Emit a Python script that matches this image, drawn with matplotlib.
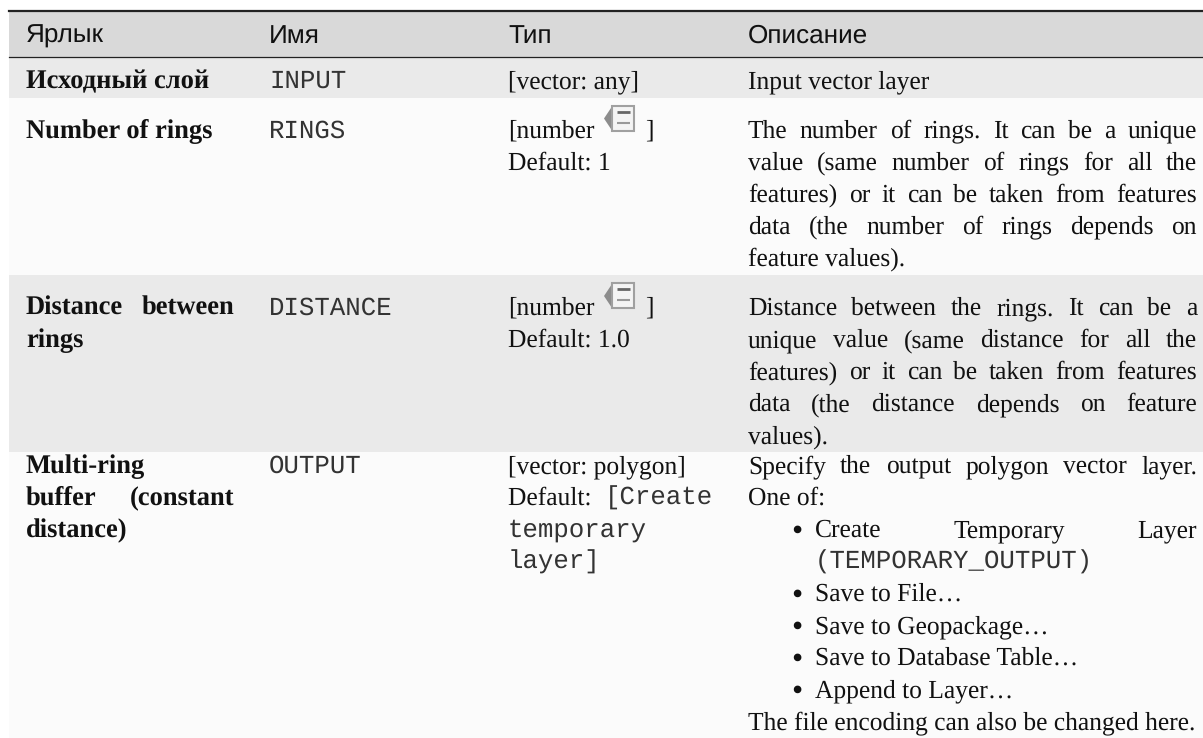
import matplotlib
matplotlib.use('Agg')
import matplotlib.pyplot as plt
from matplotlib.patches import Rectangle, Polygon

plt.rcParams['text.hinting'] = 'no_hinting'

# Table content
headers = ['Ярлык', 'Имя', 'Тип', 'Описание']
names = ['INPUT', 'RINGS', 'DISTANCE', 'OUTPUT']
labels = [
  ['Исходный слой'],
  ['Number of rings'],
  ['Distance between', 'rings'],
  ['Multi-ring', 'buffer (constant', 'distance)'],
]
types = [
  ['[vector: any]'],
  ['[number', 'Default: 1'],
  ['[number', 'Default: 1.0'],
  ['[vector: polygon]', 'Default: ', 'temporary', 'layer]'],
]
default_mono = '[Create'
descriptions = [
  [('Input vector layer', False)],
  [('The number of rings. It can be a unique', True),
   ('value (same number of rings for all the', True),
   ('features) or it can be taken from features', True),
   ('data (the number of rings depends on', True),
   ('feature values).', False)],
  [('Distance between the rings. It can be a', True),
   ('unique value (same distance for all the', True),
   ('features) or it can be taken from features', True),
   ('data (the distance depends on feature', True),
   ('values).', False)],
]
output_intro = ['Specify the output polygon vector layer.', 'One of:']
output_bullets = ['Create Temporary Layer', None, 'Save to File…', 'Save to Geopackage…',
                  'Save to Database Table…', 'Append to Layer…']
output_code = '(TEMPORARY_OUTPUT)'
output_tail = 'The file encoding can also be changed here.'

# Layout, in pixels
W, H = 1203, 738
LEFT = 9
COL_X = [26, 269, 508, 748]
RIGHT_DESC = 1197
RIGHT_LABEL = 234
ROW_TOPS = [57, 98, 275, 452, 738]
FIRST_BASE = [88, 137.5, 315, 473]
LINE = 32
SERIF = 'Liberation Serif'
MONO = 'Liberation Mono'
SANS = 'Liberation Sans'
FS = 18.4
FS_BOLD = 19.1
FS_HEAD = 18.8
FS_MONO = 18.5

fig = plt.figure(figsize=(W / 100, H / 100), dpi=100)
ax = fig.add_axes([0, 0, 1, 1])
ax.set_xlim(0, W)
ax.set_ylim(H, 0)
ax.axis('off')
renderer = fig.canvas.get_renderer()


def put(x, y, s, family=SERIF, weight='normal', color='#111111', size=FS):
  return ax.text(x, y, s, family=family, fontweight=weight, fontsize=size,
                 color=color, va='baseline', ha='left')


def mono(x, y, s):
  return put(x, y, s, family=MONO, color='#333333', size=FS_MONO)


def width(t):
  return t.get_window_extent(renderer).width


def justified(x0, x1, y, s, weight='normal', size=FS):
  # spread the words out to fill the column like the html table does
  words = s.split(' ')
  parts = [put(x0, y, w, weight=weight, size=size) for w in words]
  total = sum(width(p) for p in parts)
  gap = (x1 - x0 - total) / (len(words) - 1)
  x = x0
  for p in parts:
    p.set_x(x)
    x += width(p) + gap


def icon(y):
  # little "data defined" widget next to [number ]
  ax.add_patch(Polygon([[604, y - 19], [612, y - 31], [612, y - 7]], color='#8c8c8c', lw=0))
  ax.add_patch(Rectangle((612, y - 32), 22, 25, fc='#f4f4f4', ec='#a0a0a0', lw=1.5))
  ax.plot([617, 630], [y - 26, y - 26], color='#666666', lw=2, solid_capstyle='butt')
  ax.plot([617, 630], [y - 15, y - 15], color='#999999', lw=1.5, solid_capstyle='butt')


# Backgrounds
ax.add_patch(Rectangle((LEFT, 11), W - LEFT, 46, fc='#d9d9d9', ec='none'))
row_colors = ['#eaeaea', '#fbfbfb', '#eaeaea', '#fbfbfb']
for i in range(4):
  ax.add_patch(Rectangle((LEFT, ROW_TOPS[i]), W - LEFT, ROW_TOPS[i + 1] - ROW_TOPS[i],
                         fc=row_colors[i], ec='none'))
ax.plot([LEFT, W], [11, 11], color='#222222', lw=1.6)
ax.plot([LEFT, W], [57, 57], color='#222222', lw=0.9)

# Header
for x, h in zip(COL_X, headers):
  put(x, 43, h, family=SANS, size=FS_HEAD)

# Label and name columns
for i in range(4):
  base = FIRST_BASE[i]
  for j, line in enumerate(labels[i]):
    if ' ' in line and len(labels[i]) > 1 and j < len(labels[i]) - 1:
      justified(COL_X[0], RIGHT_LABEL, base + j * LINE, line, weight='bold', size=FS_BOLD)
    else:
      put(COL_X[0], base + j * LINE, line, weight='bold', size=FS_BOLD)
  mono(COL_X[1], base, names[i])

# Type column
for i in range(4):
  base = FIRST_BASE[i]
  for j, line in enumerate(types[i]):
    if i == 3 and j >= 2:
      mono(COL_X[2], base + j * LINE, line)
    else:
      t = put(COL_X[2], base + j * LINE, line)
      if i == 3 and j == 1:
        mono(COL_X[2] + width(t) + 7, base + j * LINE, default_mono)
  if i in (1, 2):
    icon(base)
    put(645, base, ']')

# Description column
for i in range(3):
  for j, (line, just) in enumerate(descriptions[i]):
    y = FIRST_BASE[i] + j * LINE
    if just:
      justified(COL_X[3], RIGHT_DESC, y, line)
    else:
      put(COL_X[3], y, line)

y = FIRST_BASE[3]
justified(COL_X[3], RIGHT_DESC, y, output_intro[0])
put(COL_X[3], y + LINE, output_intro[1])
for k, b in enumerate(output_bullets):
  by = y + (k + 2) * LINE
  if b is None:
    mono(815, by, output_code)
    continue
  put(791, by + 2.5, '•', size=23)
  if k == 0:
    justified(815, RIGHT_DESC, by, b)
  else:
    put(815, by, b)
put(COL_X[3], y + 8 * LINE, output_tail)

plt.savefig('out.png', dpi=100)
